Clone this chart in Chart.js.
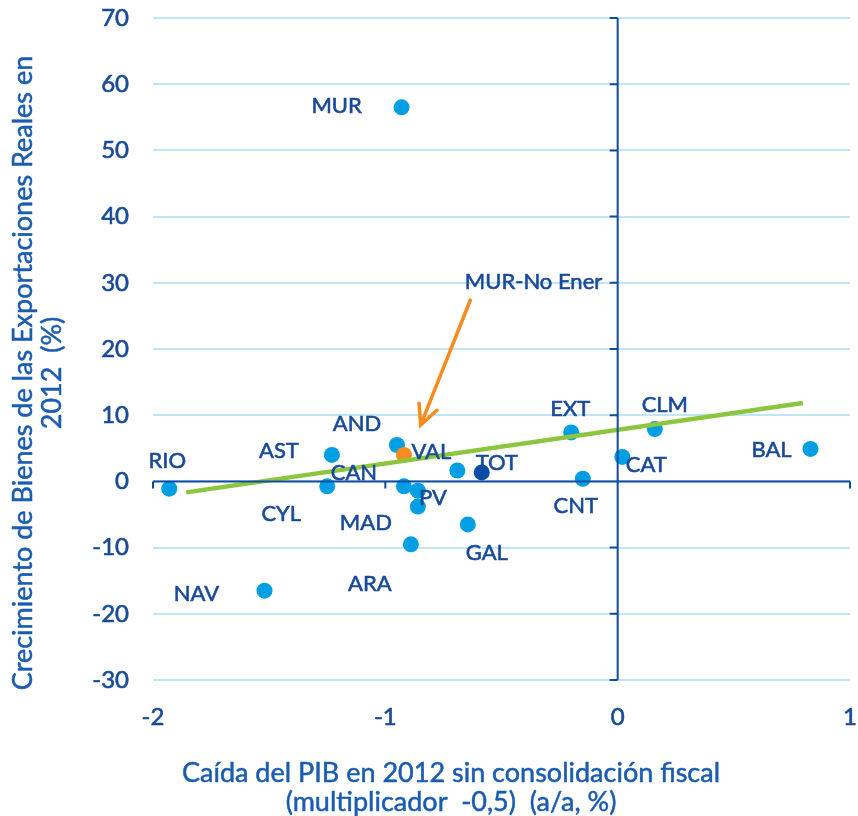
<!DOCTYPE html>
<html>
<head>
<meta charset="utf-8">
<script src="https://cdn.jsdelivr.net/npm/chart.js@4.4.0/dist/chart.umd.min.js"></script>
<style>
  body { margin: 0; background: #fff; }
  #caja { width: 858px; height: 816px; }
</style>
</head>
<body>
<div id="caja"><canvas id="myChart" width="858" height="816"></canvas></div>
<script>
// datos
const regiones = ['RIO', 'AST', 'CYL', 'AND', 'CAN', 'PV', 'MAD', 'ARA', 'VAL', 'GAL', 'NAV', 'EXT', 'CLM', 'CAT', 'CNT', 'BAL', 'MUR'];
const caidaPib = [-1.93, -1.23, -1.25, -0.95, -0.92, -0.86, -0.86, -0.89, -0.69, -0.645, -1.52, -0.20, 0.16, 0.02, -0.15, 0.83, -0.93];
const crecExport = [-1.1, 4.0, -0.75, 5.5, -0.75, -1.4, -3.8, -9.5, 1.65, -6.5, -16.5, 7.4, 7.9, 3.7, 0.4, 4.9, 56.5];
const totalX = [-0.585];
const totalY = [1.35];
const murNoEnerX = [-0.92];
const murNoEnerY = [4.0];
const tendenciaX = [-1.857, 0.797];
const tendenciaY = [-1.66, 11.84];
const ticksX = [-2, -1, 0, 1];
const ticksY = [-30, -20, -10, 0, 10, 20, 30, 40, 50, 60, 70];
const tituloX = ['Caída del PIB en 2012 sin consolidación fiscal', '(multiplicador  -0,5)  (a/a, %)'];
const tituloY = ['Crecimiento de Bienes de las Exportaciones Reales en', '2012  (%)'];

// desplazamiento de cada etiqueta respecto a su punto (px)
const despl = [[-2, -28], [-53, -4], [-46, 28], [-40, -21], [-50, -13], [15, 7], [-52, 16], [-41, 40], [-26, -19], [19, 28], [-68, 3], [-1, -24], [10, -24], [24, 8], [-7, 27], [-39, 1], [-65, -1]];

const azulOscuro = '#0f4c9e';
const azulTexto = '#184a98';
const azulTitulo = '#1a5cb0';
const fuente = 'Lato';

const puntos = (xs, ys) => xs.map((x, i) => ({ x: x, y: ys[i] }));

// texto algo mas grueso, como en el original
function texto(ctx, t, x, y) {
  ctx.strokeText(t, x, y);
  ctx.fillText(t, x, y);
}

// ejes en cero con sus marcas, etiquetas, flecha y titulos
const extras = {
  id: 'extras',
  afterDatasetsDraw(chart) {
    const ctx = chart.ctx;
    const sx = chart.scales.x, sy = chart.scales.y;
    const a = chart.chartArea;
    const x0 = sx.getPixelForValue(0), y0 = sy.getPixelForValue(0);
    ctx.save();
    ctx.strokeStyle = azulOscuro;
    ctx.lineWidth = 2;
    ctx.beginPath();
    ctx.moveTo(a.left, y0); ctx.lineTo(a.right, y0);
    ctx.moveTo(x0, a.top); ctx.lineTo(x0, a.bottom);
    ticksX.forEach(v => { const px = sx.getPixelForValue(v); ctx.moveTo(px, y0); ctx.lineTo(px, y0 + 7); });
    ticksY.forEach(v => { const py = sy.getPixelForValue(v); ctx.moveTo(x0 - 8, py); ctx.lineTo(x0, py); });
    ctx.stroke();

    // etiquetas
    ctx.font = '22px ' + fuente;
    ctx.fillStyle = azulTexto;
    ctx.strokeStyle = azulTexto;
    ctx.lineWidth = 0.6;
    ctx.textAlign = 'center';
    ctx.textBaseline = 'middle';
    regiones.forEach((r, i) => {
      texto(ctx, r, sx.getPixelForValue(caidaPib[i]) + despl[i][0], sy.getPixelForValue(crecExport[i]) + despl[i][1]);
    });
    texto(ctx, 'TOT', sx.getPixelForValue(totalX[0]) + 15, sy.getPixelForValue(totalY[0]) - 10);
    texto(ctx, 'MUR-No Ener', sx.getPixelForValue(-0.362), sy.getPixelForValue(30.2));

    // flecha
    const x1 = sx.getPixelForValue(-0.634), y1 = sy.getPixelForValue(27.4);
    const x2 = sx.getPixelForValue(-0.848), y2 = sy.getPixelForValue(8.5);
    const ang = Math.atan2(y2 - y1, x2 - x1);
    ctx.strokeStyle = '#f68b1f';
    ctx.lineWidth = 3.5;
    ctx.lineCap = 'round';
    ctx.beginPath();
    ctx.moveTo(x1, y1); ctx.lineTo(x2, y2);
    ctx.moveTo(x2 - 22 * Math.cos(ang - 0.45), y2 - 22 * Math.sin(ang - 0.45));
    ctx.lineTo(x2, y2);
    ctx.lineTo(x2 - 22 * Math.cos(ang + 0.45), y2 - 22 * Math.sin(ang + 0.45));
    ctx.stroke();

    // titulos
    ctx.fillStyle = azulTitulo;
    ctx.strokeStyle = azulTitulo;
    ctx.lineWidth = 0.5;
    ctx.font = '27px ' + fuente;
    texto(ctx, tituloX[0], 451, 773);
    texto(ctx, tituloX[1], 451, 802);
    ctx.translate(0, 373);
    ctx.rotate(-Math.PI / 2);
    texto(ctx, tituloY[0], 0, 23);
    texto(ctx, tituloY[1], 0, 52);
    ctx.restore();
  }
};

const ctx = document.getElementById('myChart');
new Chart(ctx, {
  type: 'scatter',
  data: {
    datasets: [
      { label: 'Tendencia', type: 'line', data: puntos(tendenciaX, tendenciaY), borderColor: '#8cc63f', borderWidth: 4.5, pointRadius: 0, fill: false, order: 0 },
      { label: 'MUR-No Ener', data: puntos(murNoEnerX, murNoEnerY), backgroundColor: '#f68b1f', pointRadius: 8, pointBorderWidth: 0, order: 1 },
      { label: 'TOT', data: puntos(totalX, totalY), backgroundColor: '#0b4da2', pointRadius: 8, pointBorderWidth: 0, order: 2 },
      { label: 'CCAA', data: puntos(caidaPib, crecExport), backgroundColor: '#009fe3', pointRadius: 8, pointBorderWidth: 0, order: 3 }
    ]
  },
  options: {
    responsive: false,
    animation: false,
    layout: { padding: 0 },
    plugins: { legend: { display: false }, tooltip: { enabled: false } },
    scales: {
      x: {
        type: 'linear', min: -2, max: 1,
        afterBuildTicks: s => { s.ticks = ticksX.map(v => ({ value: v })); },
        afterFit: s => { s.height = 136; s.paddingLeft = 0; s.paddingRight = 6; },
        border: { display: false },
        grid: { display: false },
        ticks: { color: azulTexto, font: { family: fuente, size: 24 }, padding: 15, maxRotation: 0, textStrokeColor: azulTexto, textStrokeWidth: 0.6 }
      },
      y: {
        type: 'linear', min: -30, max: 70,
        afterBuildTicks: s => { s.ticks = ticksY.map(v => ({ value: v })); },
        afterFit: s => { s.width = 153; s.paddingTop = 18; s.paddingBottom = 0; },
        border: { display: false },
        grid: { color: '#bfe5f7', lineWidth: 2, drawTicks: false },
        ticks: { color: azulTexto, font: { family: fuente, size: 24 }, padding: 24, textStrokeColor: azulTexto, textStrokeWidth: 0.6 }
      }
    }
  },
  plugins: [extras]
});
</script>
</body>
</html>
